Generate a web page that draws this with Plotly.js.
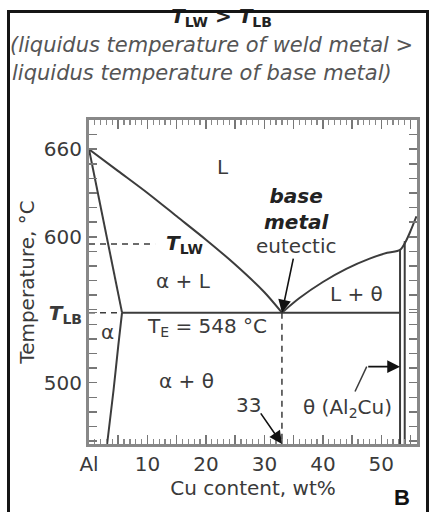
<!DOCTYPE html>
<html><head><meta charset="utf-8">
<script src="https://cdn.plot.ly/plotly-3.0.1.min.js"></script>
<style>
body{margin:0;padding:0;background:#fff;}
#chart{width:429px;height:512px;position:absolute;left:0;top:0;}
#frame{position:absolute;left:7px;top:10px;width:416px;height:510px;border:3px solid #151515;border-bottom:none;pointer-events:none;}
</style></head>
<body>
<div id="chart"></div>
<div id="frame"></div>
<script>
// phase-boundary data (wt% Cu, temperature °C)
const liqAlphaX = [0, 5, 10, 15, 20, 25, 30, 33];
const liqAlphaT = [660, 645, 630, 614, 598, 581, 562, 548];
const solidusX = [0, 5.65];
const solidusT = [660, 548];
const solvusX = [5.65, 5.0, 4.2, 3.1];
const solvusT = [548, 525, 495, 458];
const liqThetaX = [33, 36, 40, 44, 48, 51, 53.2, 54.2, 55, 56];
const liqThetaT = [548, 558, 569, 578, 585, 589, 591, 597, 604, 614];
const eutecticX = [5.65, 53.2];
const eutecticT = [548, 548];
const thetaLeftX = [53.2, 53.2];
const thetaLeftT = [591, 458];
const thetaRightX = [54.0, 54.0];
const thetaRightT = [597, 458];
const tlwX = [0, 11.3];
const tlwT = [595, 595];
const tlbX = [0, 5.65];
const tlbT = [548, 548];
const comp33X = [33, 33];
const comp33T = [548, 458];
const thetaLeaderX = [45.5, 47.5];
const thetaLeaderT = [494, 511];

const xTickVals = [0, 5, 10, 15, 20, 25, 30, 35, 40, 45, 50, 55];
const xTickText = ['Al', '', '10', '', '20', '', '30', '', '40', '', '50', ''];
const yTickVals = [500, 548, 600, 660];
const yTickText = ['500', '<b><i>T</i><sub>LB</sub></b>', '600', '660'];

const titleLines = [
  '<b><i>T</i><sub>LW</sub> > <i>T</i><sub>LB</sub></b>',
  '<i>(liquidus temperature of weld metal ></i>',
  '<i>liquidus temperature of base metal)</i>'
];

const LC = '#3c3c3c';
function ln(x, y, dash, w, smooth) {
  return {x: x, y: y, mode: 'lines', type: 'scatter', hoverinfo: 'skip',
          line: {color: LC, width: w || 2, dash: dash || 'solid', shape: smooth ? 'spline' : 'linear', smoothing: 0.8},
          showlegend: false};
}
const data = [
  ln(liqAlphaX, liqAlphaT, 'solid', 2, true), ln(solidusX, solidusT), ln(solvusX, solvusT, 'solid', 2, true),
  ln(liqThetaX, liqThetaT, 'solid', 2, true), ln(eutecticX, eutecticT),
  ln(thetaLeftX, thetaLeftT), ln(thetaRightX, thetaRightT),
  ln(tlwX, tlwT, '6px,5px', 1.5), ln(tlbX, tlbT, '6px,5px', 1.5), ln(comp33X, comp33T, '6px,5px', 1.5),
  ln(thetaLeaderX, thetaLeaderT, 'solid', 1.5)
];

const F = {family: 'DejaVu Sans', size: 20, color: '#3a3a3a'};
const FB = {family: 'DejaVu Sans', size: 20, color: '#222'};
function txt(x, y, t, extra) {
  return Object.assign({x: x, y: y, text: t, showarrow: false, xref: 'x', yref: 'y', font: F}, extra || {});
}
function arrow(x, y, ax, ay) {
  return {x: x, y: y, ax: ax, ay: ay, axref: 'x', ayref: 'y', xref: 'x', yref: 'y', text: '',
          showarrow: true, arrowhead: 2, arrowsize: 1.6, arrowwidth: 1.6, arrowcolor: '#111'};
}
function ptitle(x, anchor, y, t, size, color) {
  return {xref: 'paper', yref: 'paper', x: x, y: y, xanchor: anchor, yanchor: 'middle', showarrow: false,
          text: t, font: {family: 'DejaVu Sans', size: size, color: color}};
}
const annotations = [
  ptitle(0.405, 'center', 1.318, titleLines[0], 20, '#222'),
  ptitle(-0.247, 'left', 1.232, titleLines[1], 21, '#555'),
  ptitle(-0.24, 'left', 1.146, titleLines[2], 21, '#555'),
  txt(22.9, 648, 'L'),
  txt(35.5, 619, '<b><i>base<br>metal</i></b>', {font: FB}),
  txt(35.5, 594, 'eutectic'),
  txt(16.3, 595, '<b><i>T</i><sub>LW</sub></b>', {font: FB}),
  txt(16.1, 570, 'α + L'),
  txt(45.8, 561, 'L + θ'),
  txt(3.1, 535, 'α'),
  txt(20.2, 538, 'T<sub>E</sub> = 548 °C'),
  txt(16.7, 501, 'α + θ'),
  txt(27.2, 485, '33'),
  txt(44.2, 483, 'θ (Al<sub>2</sub>Cu)'),
  arrow(33, 548, 35.0, 586),
  arrow(33, 458, 29.2, 480),
  arrow(53.2, 511, 47.5, 511),
  {xref: 'paper', yref: 'paper', x: 0.955, y: -0.165, xanchor: 'center', yanchor: 'middle', showarrow: false,
   text: '<b>B</b>', font: {family: 'Liberation Sans', size: 22, color: '#111'}}
];

const layout = {
  width: 429, height: 512,
  margin: {l: 89, r: 12, t: 120, b: 68},
  paper_bgcolor: '#fff', plot_bgcolor: '#fff',
  font: F,
  xaxis: {
    range: [0, 56.1], tickmode: 'array', tickvals: xTickVals, ticktext: xTickText,
    ticks: 'inside', ticklen: 9, tickwidth: 1.5, tickcolor: '#777',
    minor: {tickmode: 'linear', tick0: 0, dtick: 1, ticks: 'inside', ticklen: 5, tickwidth: 1.2, tickcolor: '#888'},
    showline: true, linewidth: 3, linecolor: '#888', mirror: 'ticks',
    showgrid: false, zeroline: false, fixedrange: true,
    tickfont: F,
    title: {text: 'Cu content, wt%', font: F, standoff: 4}
  },
  yaxis: {
    range: [458, 680], tickmode: 'array', tickvals: yTickVals, ticktext: yTickText,
    ticks: 'inside', ticklen: 8, tickwidth: 1.5, tickcolor: '#777',
    minor: {tickmode: 'linear', tick0: 460, dtick: 10, ticks: 'inside', ticklen: 8, tickwidth: 1.5, tickcolor: '#777'},
    showline: true, linewidth: 3, linecolor: '#888', mirror: 'ticks',
    showgrid: false, zeroline: false, fixedrange: true,
    tickfont: F,
    title: {text: 'Temperature, °C', font: F, standoff: 4}
  },
  annotations: annotations
};
Plotly.newPlot('chart', data, layout, {displayModeBar: false, staticPlot: true});
</script>
</body></html>
